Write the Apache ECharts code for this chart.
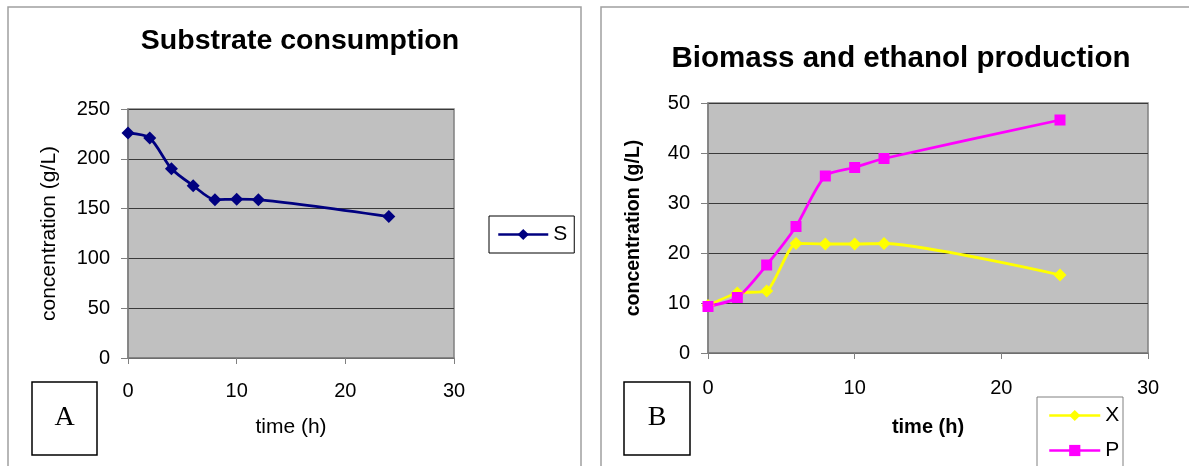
<!DOCTYPE html>
<html>
<head>
<meta charset="utf-8">
<script src="https://cdn.jsdelivr.net/npm/echarts@6/dist/echarts.min.js"></script>
<style>
  html, body { margin: 0; padding: 0; background: #fff; }
  #chart { width: 1189px; height: 466px; }
</style>
</head>
<body>
<div id="chart"></div>
<script>
// sampling times (h)
const time = [0, 2, 4, 6, 8, 10, 12, 24];
// panel A: substrate S (g/L)
const substrate = [226, 221, 190, 173, 159, 159.5, 159, 142];
// panel B: biomass X and ethanol P (g/L)
const biomass = [9.5, 12.0, 12.4, 21.9, 21.8, 21.8, 21.9, 15.6];
const ethanol = [9.3, 11.1, 17.6, 25.3, 35.4, 37.1, 38.9, 46.6];

const FONT = 'Liberation Sans, Arial, sans-serif';

function pairs(ys) {
    return time.map((t, i) => [t, ys[i]]);
}

// common axis look (Excel style)
function xAxisOf(gridIndex, nameStyle, gap, margin) {
    return {
        type: 'value', gridIndex: gridIndex, min: 0, max: 30, interval: 10,
        name: 'time (h)', nameLocation: 'middle', nameGap: gap,
        nameTextStyle: nameStyle,
        axisLine: { show: true, lineStyle: { color: '#808080', width: 1.5 } },
        axisTick: { show: true, inside: false, length: 6, lineStyle: { color: '#808080' } },
        axisLabel: { color: '#000', fontSize: 20, fontFamily: FONT, margin: margin },
        splitLine: { show: false }
    };
}

function yAxisOf(gridIndex, max, interval, nameStyle, gap) {
    return {
        type: 'value', gridIndex: gridIndex, min: 0, max: max, interval: interval,
        name: 'concentration (g/L)', nameLocation: 'middle', nameGap: gap,
        nameTextStyle: nameStyle,
        axisLine: { show: true, lineStyle: { color: '#808080', width: 1.5 } },
        axisTick: { show: true, inside: false, length: 7, lineStyle: { color: '#808080' } },
        axisLabel: { color: '#000', fontSize: 20, fontFamily: FONT, margin: 18 },
        splitLine: { show: true, lineStyle: { color: '#3a3a3a', width: 1 } }
    };
}

const chart = echarts.init(document.getElementById('chart'));

const option = {
    backgroundColor: '#fff',
    animation: false,
    textStyle: { fontFamily: FONT },
    title: [
        {
            text: 'Substrate consumption', left: 295, top: 22, textAlign: 'center',
            textStyle: { fontSize: 28.5, fontWeight: 'bold', color: '#000', fontFamily: FONT }
        },
        {
            text: 'Biomass and ethanol production', left: 896, top: 39, textAlign: 'center',
            textStyle: { fontSize: 29.5, fontWeight: 'bold', color: '#000', fontFamily: FONT }
        }
    ],
    grid: [
        {
            left: 128, top: 109, width: 326, height: 249, show: true,
            backgroundColor: '#c0c0c0', borderColor: '#808080', borderWidth: 1.5,
            outerBoundsMode: 'none'
        },
        {
            left: 708, top: 103, width: 440, height: 250, show: true,
            backgroundColor: '#c0c0c0', borderColor: '#808080', borderWidth: 1.5,
            outerBoundsMode: 'none'
        }
    ],
    xAxis: [
        xAxisOf(0, { fontSize: 21, color: '#000', fontFamily: FONT }, 59, 23),
        xAxisOf(1, { fontSize: 20, color: '#000', fontWeight: 'bold', fontFamily: FONT }, 64, 25)
    ],
    yAxis: [
        yAxisOf(0, 250, 50, { fontSize: 21, color: '#000', fontFamily: FONT }, 68),
        yAxisOf(1, 50, 10, { fontSize: 19.5, color: '#000', fontWeight: 'bold', fontFamily: FONT }, 64)
    ],
    legend: [
        {
            data: ['S'], left: 489, top: 216, orient: 'vertical',
            padding: [8, 7, 8, 8], itemWidth: 50, itemHeight: 14,
            borderColor: '#000', borderWidth: 1, backgroundColor: '#fff',
            lineStyle: { width: 2.5 },
            textStyle: { fontSize: 21, color: '#000', fontFamily: FONT }
        },
        {
            data: ['X', 'P'], left: 1048, top: 405, orient: 'vertical',
            padding: 0, itemWidth: 51, itemHeight: 14, itemGap: 14,
            lineStyle: { width: 2.5 },
            textStyle: { fontSize: 21, color: '#000', fontFamily: FONT }
        }
    ],
    graphic: [
        // panel frames
        { type: 'rect', shape: { x: 8, y: 7, width: 573, height: 480 }, style: { fill: 'none', stroke: '#a0a0a0', lineWidth: 1.5 }, z: -1 },
        { type: 'rect', shape: { x: 601, y: 7, width: 620, height: 480 }, style: { fill: 'none', stroke: '#a0a0a0', lineWidth: 1.5 }, z: -1 },
        // legend box of panel B (runs off the bottom edge)
        { type: 'rect', shape: { x: 1037, y: 397, width: 86, height: 90 }, style: { fill: '#fff', stroke: '#808080', lineWidth: 1 }, z: -1 },
        // A / B boxes
        { type: 'rect', shape: { x: 32, y: 382, width: 65, height: 73 }, style: { fill: '#fff', stroke: '#000', lineWidth: 1.5 } },
        { type: 'text', x: 64.5, y: 418, style: { text: 'A', font: '28px "Liberation Serif", "Times New Roman", serif', fill: '#000', align: 'center', verticalAlign: 'middle' } },
        { type: 'rect', shape: { x: 624, y: 382, width: 66, height: 73 }, style: { fill: '#fff', stroke: '#000', lineWidth: 1.5 } },
        { type: 'text', x: 657, y: 418, style: { text: 'B', font: '28px "Liberation Serif", "Times New Roman", serif', fill: '#000', align: 'center', verticalAlign: 'middle' } }
    ],
    series: [
        {
            name: 'S', type: 'line', xAxisIndex: 0, yAxisIndex: 0,
            data: pairs(substrate), smooth: 0.25,
            symbol: 'diamond', symbolSize: 13,
            lineStyle: { color: '#000080', width: 2.8 },
            itemStyle: { color: '#000080' }
        },
        {
            name: 'X', type: 'line', xAxisIndex: 1, yAxisIndex: 1,
            data: pairs(biomass), smooth: 0.2,
            symbol: 'diamond', symbolSize: 13,
            lineStyle: { color: '#ffff00', width: 2.8 },
            itemStyle: { color: '#ffff00' }
        },
        {
            name: 'P', type: 'line', xAxisIndex: 1, yAxisIndex: 1,
            data: pairs(ethanol), smooth: 0.25,
            symbol: 'rect', symbolSize: 11,
            lineStyle: { color: '#ff00ff', width: 2.8 },
            itemStyle: { color: '#ff00ff' }
        }
    ]
};

chart.setOption(option);
window.addEventListener('resize', () => chart.resize());
</script>
</body>
</html>
